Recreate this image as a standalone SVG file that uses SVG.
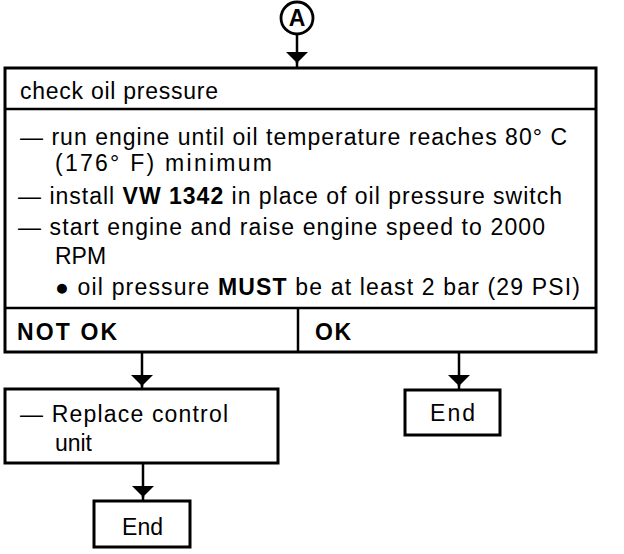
<svg xmlns="http://www.w3.org/2000/svg" width="624" height="554" viewBox="0 0 624 554">
<defs>
<style>
.box{fill:#fff;stroke:#000;stroke-width:3}
.div{fill:none;stroke:#000;stroke-width:2.5}
.t{font-family:"Liberation Sans",Arial,sans-serif;font-size:23px;fill:#000}
.b{font-weight:bold}
.con{fill:none;stroke:#000;stroke-width:2.5}
</style>
<marker id="ah" viewBox="0 0 11 22" refX="11" refY="11" markerWidth="11" markerHeight="22" markerUnits="userSpaceOnUse" orient="auto">
<path d="M0,0 L11,11 L0,22 Z" fill="#000"/>
</marker>
</defs>
<rect width="624" height="554" fill="#fff"/>
<g id="connectors">
<line class="con" x1="297" y1="35" x2="297" y2="63" marker-end="url(#ah)"/>
<line class="con" x1="297" y1="62" x2="297" y2="68"/>
<line class="con" x1="142" y1="352" x2="142" y2="386" marker-end="url(#ah)"/>
<line class="con" x1="142" y1="385" x2="142" y2="389"/>
<line class="con" x1="459" y1="352" x2="459" y2="386" marker-end="url(#ah)"/>
<line class="con" x1="459" y1="385" x2="459" y2="390"/>
<line class="con" x1="143" y1="463" x2="143" y2="497" marker-end="url(#ah)"/>
<line class="con" x1="143" y1="496" x2="143" y2="501"/>
</g>
<g id="connectorA">
<circle cx="297" cy="18" r="16" fill="#fff" stroke="#000" stroke-width="2.8"/>
<text class="t b" x="297" y="26" text-anchor="middle" font-size="22">A</text>
</g>
<g id="check">
<rect class="box" x="5" y="68" width="591" height="284"/>
<line class="div" x1="5" y1="109" x2="596" y2="109"/>
<line class="div" x1="5" y1="308" x2="596" y2="308"/>
<line class="div" x1="298" y1="308" x2="298" y2="352"/>
<text class="t" x="20" y="99" textLength="198" lengthAdjust="spacing">check oil pressure</text>
<text class="t" x="20" y="145" textLength="547" lengthAdjust="spacing">— run engine until oil temperature reaches 80° C</text>
<text class="t" x="55" y="171" textLength="217" lengthAdjust="spacing">(176° F) minimum</text>
<text class="t" x="18" y="204" textLength="544" lengthAdjust="spacing">— install <tspan class="b">VW 1342</tspan> in place of oil pressure switch</text>
<text class="t" x="18" y="235" textLength="527" lengthAdjust="spacing">— start engine and raise engine speed to 2000</text>
<text class="t" x="55" y="264">RPM</text>
<text class="t" x="55" y="295" textLength="525" lengthAdjust="spacing">● oil pressure <tspan class="b">MUST</tspan> be at least 2 bar (29 PSI)</text>
<text class="t b" x="17" y="340" textLength="100" lengthAdjust="spacing">NOT OK</text>
<text class="t b" x="315" y="340" textLength="36" lengthAdjust="spacing">OK</text>
</g>
<g id="replace">
<rect class="box" x="5" y="389" width="273" height="74"/>
<text class="t" x="20" y="422" textLength="208" lengthAdjust="spacing">— Replace control</text>
<text class="t" x="55" y="451" textLength="37" lengthAdjust="spacing">unit</text>
</g>
<g id="end1">
<rect class="box" x="405" y="390" width="95" height="45"/>
<text class="t" x="430" y="421" textLength="45" lengthAdjust="spacing">End</text>
</g>
<g id="end2">
<rect class="box" x="94" y="501" width="96" height="46"/>
<text class="t" x="122" y="535" textLength="41" lengthAdjust="spacing">End</text>
</g>
</svg>
